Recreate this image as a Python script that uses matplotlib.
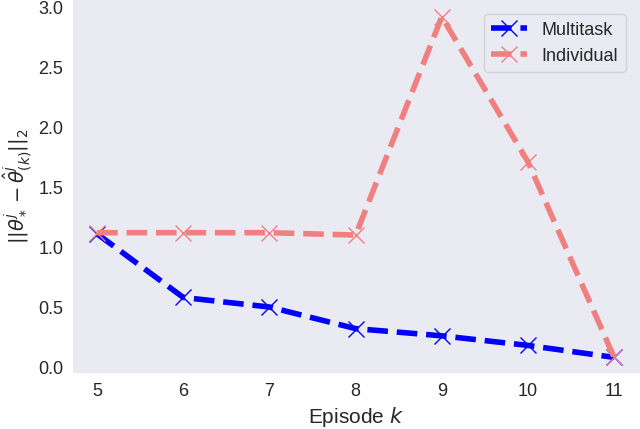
import numpy as np
import matplotlib
matplotlib.use('Agg')
import matplotlib.pyplot as plt
import seaborn as sns

# episodes and error norms
episodes = [5, 6, 7, 8, 9, 10, 11]
multitask = [1.11, 0.58, 0.50, 0.32, 0.26, 0.18, 0.08]
individual = [1.12, 1.12, 1.12, 1.10, 2.92, 1.71, 0.08]

sns.set_style('dark')
plt.rcParams['font.family'] = ['Liberation Sans', 'DejaVu Sans']
plt.rcParams['mathtext.fontset'] = 'dejavusans'

fig = plt.figure(figsize=(6.4, 4.29), dpi=100)
ax = fig.add_axes([73 / 640, 1 - 373 / 429, 1 - 73 / 640, 373 / 429])

ax.plot(episodes, multitask, color='blue', ls='--', lw=4, marker='x',
        ms=12, mew=1, label='Multitask')
ax.plot(episodes, individual, color='#f08080', ls='--', lw=4, marker='x',
        ms=12, mew=1, label='Individual')

ax.set_xlim(4.72, 11.3)
ax.set_ylim(-0.05, 3.06)
ax.set_xticks(episodes)
ax.set_yticks(np.arange(0, 3.01, 0.5))
ax.tick_params(labelsize=13)
for s in ax.spines.values():
    s.set_visible(False)

ax.set_xlabel('Episode $k$', fontsize=15)
ax.set_ylabel(r'$||\theta^j_* - \hat{\theta}^j_{(k)}||_2$', fontsize=14,
              labelpad=3)
ax.legend(loc='upper right', fontsize=13, borderaxespad=0.8)

fig.savefig('out.png', dpi=100)
